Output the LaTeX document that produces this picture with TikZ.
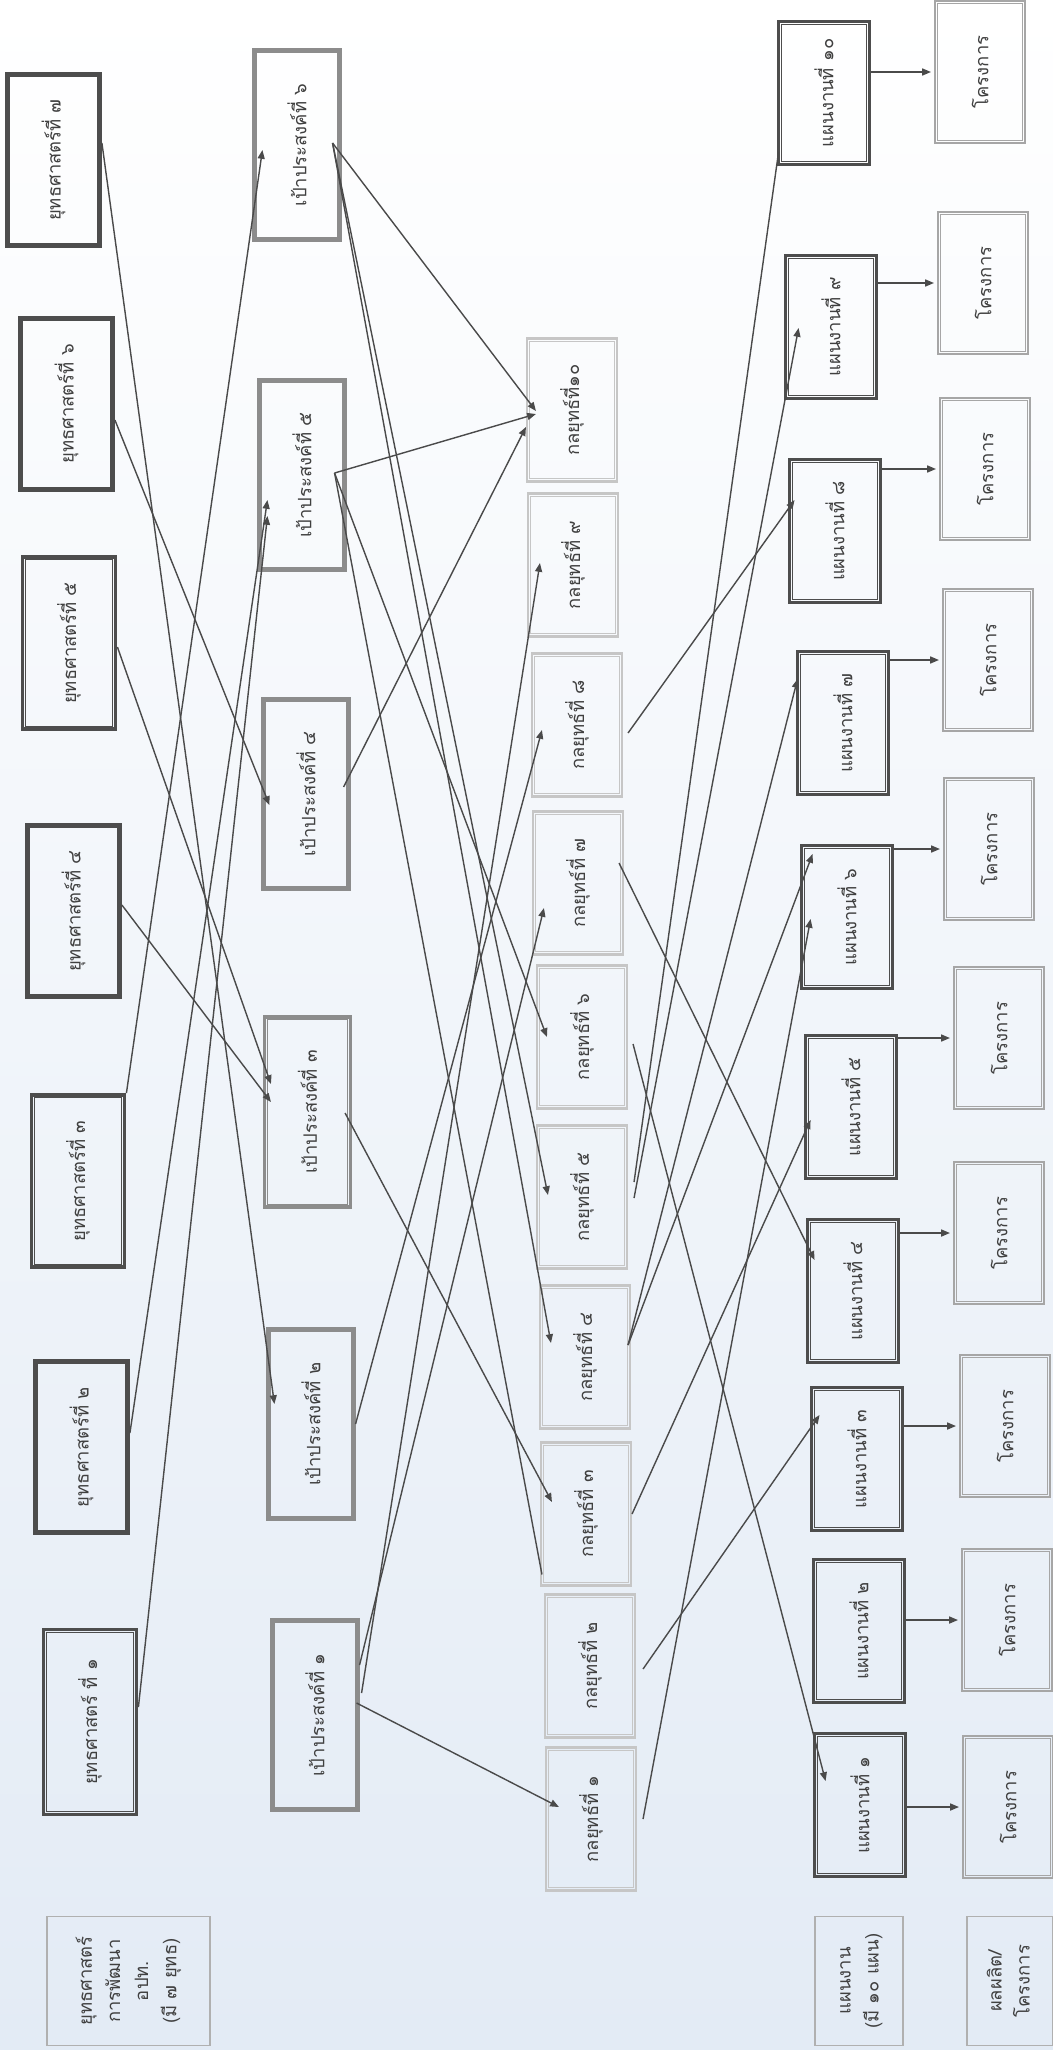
\documentclass[tikz,border=0pt]{standalone}
\usepackage{fontspec}
\usepackage{graphicx}
\newfontfamily\thaifont[Script=Thai]{Loma}
\usepackage{tikz}
\usetikzlibrary{arrows.meta,calc}
\definecolor{sdark}{HTML}{4D4D4D}
\definecolor{gmid}{HTML}{8C8C8C}
\definecolor{klight}{HTML}{C6C6C6}
\definecolor{jgray}{HTML}{A6A6A6}
\definecolor{lgray}{HTML}{B0B0B0}
\definecolor{lncol}{HTML}{4A4A4A}
\definecolor{txtcol}{HTML}{404040}
\definecolor{scanbg}{HTML}{E3EBF5}
\newcommand{\vtxt}[1]{\rotatebox{90}{#1}}

\begin{document}
\begin{tikzpicture}[x=0.02cm,y=-0.02cm,
  dbl/.style 2 args={append after command={\pgfextra{\draw[#1,line width=0.5pt]
      ([shift={(#2,-#2)}]\tikzlastnode.north west) rectangle
      ([shift={(-#2,#2)}]\tikzlastnode.south east);}}},
  base/.style={inner sep=0pt,text=txtcol,font=\thaifont\fontsize{10.5}{16}\selectfont},
  strat/.style={base,draw=sdark,line width=2.2pt,minimum width=1.86cm,minimum height=3.44cm,dbl={sdark}{2.7pt}},
  goal/.style={base,draw=gmid,line width=1.8pt,minimum width=1.72cm,minimum height=3.8cm,dbl={gmid}{2.5pt}},
  tact/.style={base,draw=klight,line width=1.2pt,minimum width=1.8cm,minimum height=2.86cm,dbl={klight}{2.2pt}},
  plan/.style={base,draw=sdark,line width=2.2pt,minimum width=1.82cm,minimum height=2.86cm,dbl={sdark}{2.7pt}},
  proj/.style={base,draw=jgray,line width=1.6pt,minimum width=1.8cm,minimum height=2.84cm,dbl={jgray}{2.4pt}},
  legend/.style={base,draw=lgray,line width=0.6pt,minimum height=2.57cm},
  link/.style={draw=lncol,line width=0.8pt},
  arr/.style={link,-{Triangle[length=5pt,width=4pt]}}]
  % scanned page
  \shade[top color=white,middle color=white!55!scanbg,bottom color=scanbg] (0,0) rectangle (1053,2050);
  \useasboundingbox (0,0) rectangle (1053,2050);

  % strategies
  \node[strat] (S7) at (53.5,160)  {\vtxt{ยุทธศาสตร์ที่ ๗}};
  \node[strat] (S6) at (66.5,404)  {\vtxt{ยุทธศาสตร์ที่ ๖}};
  \node[strat] (S5) at (69,643)    {\vtxt{ยุทธศาสตร์ที่ ๕}};
  \node[strat] (S4) at (73.5,911)  {\vtxt{ยุทธศาสตร์ที่ ๔}};
  \node[strat] (S3) at (78,1181)   {\vtxt{ยุทธศาสตร์ที่ ๓}};
  \node[strat] (S2) at (81.5,1447) {\vtxt{ยุทธศาสตร์ที่ ๒}};
  \node[strat,minimum height=3.7cm] (S1) at (90,1722) {\vtxt{ยุทธศาสตร์ ที่ ๑}};

  % goals
  \node[goal] (G6) at (297,145)    {\vtxt{เป้าประสงค์ที่ ๖}};
  \node[goal] (G5) at (302,475)    {\vtxt{เป้าประสงค์ที่ ๕}};
  \node[goal] (G4) at (306,794)    {\vtxt{เป้าประสงค์ที่ ๔}};
  \node[goal] (G3) at (307.5,1112) {\vtxt{เป้าประสงค์ที่ ๓}};
  \node[goal] (G2) at (311,1424)   {\vtxt{เป้าประสงค์ที่ ๒}};
  \node[goal] (G1) at (315,1715)   {\vtxt{เป้าประสงค์ที่ ๑}};

  % tactics
  \node[tact] (K10) at (572,410)  {\vtxt{กลยุทธ์ที่๑๐}};
  \node[tact] (K9)  at (573,565)  {\vtxt{กลยุทธ์ที่ ๙}};
  \node[tact] (K8)  at (577,725)  {\vtxt{กลยุทธ์ที่ ๘}};
  \node[tact] (K7)  at (578,883)  {\vtxt{กลยุทธ์ที่ ๗}};
  \node[tact] (K6)  at (582,1037) {\vtxt{กลยุทธ์ที่ ๖}};
  \node[tact] (K5)  at (582,1197) {\vtxt{กลยุทธ์ที่ ๕}};
  \node[tact] (K4)  at (585,1357) {\vtxt{กลยุทธ์ที่ ๔}};
  \node[tact] (K3)  at (586,1514) {\vtxt{กลยุทธ์ที่ ๓}};
  \node[tact] (K2)  at (590,1666) {\vtxt{กลยุทธ์ที่ ๒}};
  \node[tact] (K1)  at (591,1819) {\vtxt{กลยุทธ์ที่ ๑}};

  % plans
  \node[plan] (P10) at (824,93)   {\vtxt{แผนงานที่ ๑๐}};
  \node[plan] (P9)  at (831,327)  {\vtxt{แผนงานที่ ๙}};
  \node[plan] (P8)  at (835,531)  {\vtxt{แผนงานที่ ๘}};
  \node[plan] (P7)  at (843,723)  {\vtxt{แผนงานที่ ๗}};
  \node[plan] (P6)  at (847,917)  {\vtxt{แผนงานที่ ๖}};
  \node[plan] (P5)  at (851,1107) {\vtxt{แผนงานที่ ๕}};
  \node[plan] (P4)  at (853,1291) {\vtxt{แผนงานที่ ๔}};
  \node[plan] (P3)  at (857,1459) {\vtxt{แผนงานที่ ๓}};
  \node[plan] (P2)  at (859,1631) {\vtxt{แผนงานที่ ๒}};
  \node[plan] (P1)  at (860,1805) {\vtxt{แผนงานที่ ๑}};

  % projects
  \node[proj] (J10) at (980,72)   {\vtxt{โครงการ}};
  \node[proj] (J9)  at (983,283)  {\vtxt{โครงการ}};
  \node[proj] (J8)  at (985,469)  {\vtxt{โครงการ}};
  \node[proj] (J7)  at (988,660)  {\vtxt{โครงการ}};
  \node[proj] (J6)  at (989,849)  {\vtxt{โครงการ}};
  \node[proj] (J5)  at (999,1038) {\vtxt{โครงการ}};
  \node[proj] (J4)  at (999,1233) {\vtxt{โครงการ}};
  \node[proj] (J3)  at (1005,1426) {\vtxt{โครงการ}};
  \node[proj] (J2)  at (1007,1620) {\vtxt{โครงการ}};
  \node[proj] (J1)  at (1008,1807) {\vtxt{โครงการ}};

  % row labels
  \node[legend,minimum width=3.26cm] (Lstrat) at (128.5,1981)
    {\vtxt{\begin{tabular}{@{}c@{}}ยุทธศาสตร์\\การพัฒนา\\อปท.\\(มี ๗ ยุทธ)\end{tabular}}};
  \node[legend,minimum width=1.76cm] (Lplan) at (859,1981)
    {\vtxt{\begin{tabular}{@{}c@{}}แผนงาน\\(มี ๑๐ แผน)\end{tabular}}};
  \node[legend,minimum width=1.72cm] (Lproj) at (1010,1981)
    {\vtxt{\begin{tabular}{@{}c@{}}ผลผลิต/\\โครงการ\end{tabular}}};

  % strategies -> goals
  \draw[arr] ($(S7.east)+(0,-17)$) -- ($(G2.west)+(8,-20)$);
  \draw[arr] ($(S6.east)+(0,16)$) -- ($(G4.west)+(8,11)$);
  \draw[arr] ($(S5.east)+(0,4)$) -- ($(G3.west)+(8,-28)$);
  \draw[arr] ($(S4.east)+(0,-6)$) -- ($(G3.west)+(8,-10)$);
  \draw[arr] (S3.north east) -- ($(G6.west)+(10,5)$);
  \draw[arr] ($(S2.east)+(0,-14)$) -- ($(G5.west)+(10,25)$);
  \draw[arr] ($(S1.east)+(0,-15)$) -- ($(G5.west)+(10,41)$);

  % goals -> tactics
  \draw[arr] ($(G6.east)+(-9,-2)$) -- ($(K10.west)+(10,1)$);
  \draw[arr] ($(G6.east)+(-9,-2)$) -- ($(K5.west)+(12,-2)$);
  \draw[arr] ($(G6.east)+(-9,-2)$) -- ($(K4.west)+(12,-14)$);
  \draw[arr] ($(G5.east)+(-12,-2)$) -- ($(K10.west)+(10,4)$);
  \draw[arr] ($(G5.east)+(-12,-2)$) -- ($(K6.west)+(11,0)$);
  \draw[link] ($(G5.east)+(-12,-2)$) -- ($(K2.north west)+(-2,-19)$);
  \draw[arr] ($(G4.east)+(-7,-7)$) -- ($(K10.west)+(0,17)$);
  \draw[arr] ($(G3.east)+(-7,1)$) -- ($(K3.west)+(12,-12)$);
  \draw[arr] (G2.east) -- ($(K8.west)+(11,5)$);
  \draw[arr] ($(G1.east)+(-3,-12)$) -- ($(K1.west)+(14,-12)$);
  \draw[arr] ($(G1.east)+(2,-22)$) -- ($(K9.west)+(13,-2)$);
  \draw[arr] ($(G1.east)+(0,-50)$) -- ($(K7.west)+(12,25)$);

  % tactics -> plans
  \draw[arr] ($(K8.east)+(5,8)$) -- ($(P8.west)+(7,-31)$);
  \draw[arr] ($(K7.east)+(-5,-20)$) -- ($(P4.west)+(9,-31)$);
  \draw[arr] ($(K6.east)+(5,7)$) -- ($(P1.west)+(13,-24)$);
  \draw[link] ($(K5.east)+(6,-15)$) -- ($(P10.west)+(2,59)$);
  \draw[arr] ($(K5.east)+(6,1)$) -- ($(P9.west)+(15,1)$);
  \draw[arr] ($(K4.east)+(-3,-12)$) -- ($(P7.west)+(2,-44)$);
  \draw[arr] ($(K4.east)+(-3,-12)$) -- ($(P6.west)+(13,-63)$);
  \draw[arr] (K3.east) -- ($(P5.west)+(7,13)$);
  \draw[arr] ($(K2.east)+(7,3)$) -- ($(P3.west)+(10,-44)$);
  \draw[arr] ($(K1.east)+(6,0)$) -- ($(P6.west)+(11,2)$);

  % plans -> projects
  \draw[arr,shorten >=1.5pt] (P10.east |- J10.west) -- (J10.west);
  \draw[arr,shorten >=1.5pt] (P9.east |- J9.west) -- (J9.west);
  \draw[arr,shorten >=1.5pt] (P8.east |- J8.west) -- (J8.west);
  \draw[arr,shorten >=1.5pt] (P7.east |- J7.west) -- (J7.west);
  \draw[arr,shorten >=1.5pt] (P6.east |- J6.west) -- (J6.west);
  \draw[arr,shorten >=1.5pt] (P5.east |- J5.west) -- (J5.west);
  \draw[arr,shorten >=1.5pt] (P4.east |- J4.west) -- (J4.west);
  \draw[arr,shorten >=1.5pt] (P3.east |- J3.west) -- (J3.west);
  \draw[arr,shorten >=1.5pt] (P2.east |- J2.west) -- (J2.west);
  \draw[arr,shorten >=1.5pt] (P1.east |- J1.west) -- (J1.west);
\end{tikzpicture}
\end{document}
